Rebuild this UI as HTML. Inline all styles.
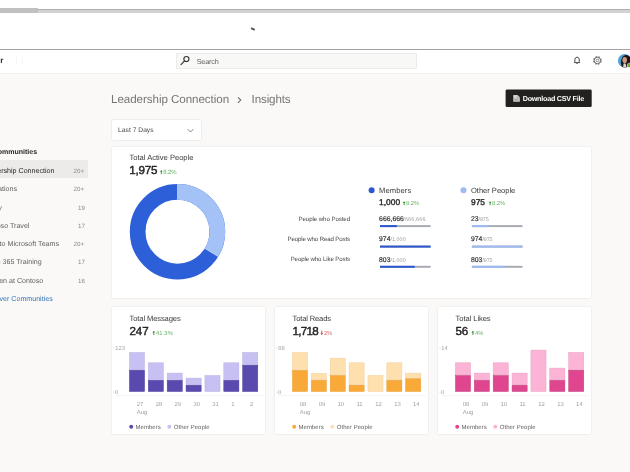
<!DOCTYPE html>
<html><head><meta charset="utf-8"><title>Insights</title>
<style>
html,body{margin:0;padding:0}
body{width:630px;height:472px;overflow:hidden;position:relative;background:#faf9f8;font-family:"Liberation Sans",sans-serif;color:#252423;text-rendering:geometricPrecision}
.t{position:absolute;white-space:nowrap;line-height:1}
.card{position:absolute;background:#fff;box-shadow:0 0 1.6px rgba(0,0,0,.17);border-radius:0.5px}
</style></head><body>
<!-- browser chrome -->
<div style="position:absolute;left:0;top:0;width:630px;height:50px;background:#fff"></div>
<div style="position:absolute;left:0;top:8.9px;width:630px;height:3.9px;background:#d2d2d2"></div>
<div style="position:absolute;left:0;top:8.9px;width:630px;height:1px;background:#adadad"></div>
<div style="position:absolute;left:0;top:7.8px;width:37.8px;height:5px;background:#c0c0c0"></div>
<div style="position:absolute;left:251px;top:28px;width:3.9px;height:1.6px;background:#565656;transform:rotate(24deg)"></div>
<div style="position:absolute;left:0;top:48.7px;width:630px;height:0.9px;background:#a2a2a2"></div>
<!-- header -->
<div style="position:absolute;left:15.6px;top:56.5px;width:0.6px;height:7.2px;background:#f5f5f5;z-index:2"></div><div style="position:absolute;left:21.8px;top:56.5px;width:0.6px;height:7.2px;background:#f5f5f5;z-index:2"></div>
<div style="position:absolute;left:0;top:49.6px;width:630px;height:23.4px;background:#fff;border-bottom:1px solid #f1f0ee"></div>
<div style="position:absolute;left:176.1px;top:52.7px;width:241px;height:16px;background:#f8f8f7;border:0.6px solid #ecebea;box-sizing:border-box;border-radius:1px"></div>
<svg style="position:absolute;left:0;top:0" width="630" height="80" viewBox="0 0 630 80">
<circle cx="186.4" cy="59" r="2.55" fill="none" stroke="#323130" stroke-width="1.1"/><path d="M184.6 60.9 L180.7 64.9" stroke="#323130" stroke-width="1.15" fill="none"/>
<path d="M577.05 57.25 C575.35 57.25 574.85 58.6 574.85 59.9 L574.85 61.5 L574.45 62.6 L579.65 62.6 L579.25 61.5 L579.25 59.9 C579.25 58.6 578.75 57.25 577.05 57.25 Z" fill="none" stroke="#323130" stroke-width="0.9" stroke-linejoin="round"/><path d="M575.9 62.9 Q577.05 64.5 578.2 62.9 Z" fill="#323130"/>
<circle cx="597.4" cy="60.45" r="3.95" fill="none" stroke="#6e6c6a" stroke-width="0.9" stroke-dasharray="1.65 1.452" transform="rotate(10 597.4 60.45)"/><circle cx="597.4" cy="60.45" r="3.2" fill="none" stroke="#5f5d5b" stroke-width="0.95"/><circle cx="597.4" cy="60.45" r="1.3" fill="none" stroke="#5f5d5b" stroke-width="0.65"/>
<defs><clipPath id="av"><circle cx="624.7" cy="60.7" r="6.8"/></clipPath></defs>
<g clip-path="url(#av)"><rect x="617" y="53" width="16" height="16" fill="#4fa3d3"/><ellipse cx="626.3" cy="62.3" rx="5.4" ry="7.4" fill="#1d1614"/><ellipse cx="624.7" cy="60.1" rx="2.3" ry="3.1" fill="#cf9a82"/><path d="M623.6 63.4 L625.6 63.4 L626.4 68 L623 68 Z" fill="#e8d2cc"/></g>
<circle cx="629.3" cy="65.4" r="2.2" fill="#6fad2d" stroke="#fff" stroke-width="0.5"/>
</svg>

<!-- sidebar -->
<div style="position:absolute;left:0;top:159.9px;width:88.2px;height:18px;background:#ecebea"></div>

<!-- title / button / dropdown -->
<svg style="position:absolute;left:0;top:80px" width="630" height="70" viewBox="0 80 630 70">
<path d="M237.9 97.3 L240.8 100.1 L237.9 102.9" fill="none" stroke="#6c6a68" stroke-width="1.05"/>
<rect x="505.6" y="89.4" width="86.1" height="17.7" rx="1.4" fill="#222120"/>
<path d="M513.3 95.1 H517.6 L519.8 97.3 V101.7 H513.3 Z" fill="#d6d6d6"/><path d="M517.4 95.1 V97.5 H519.8" fill="none" stroke="#8a8a8a" stroke-width="0.5"/><path d="M514.4 98.9 H518.7 M514.4 100.2 H518.7" stroke="#6a6a6a" stroke-width="0.5"/>
</svg>
<div style="position:absolute;left:111.8px;top:120.2px;width:89.5px;height:19.9px;background:#fff;box-shadow:0 0 1.6px rgba(0,0,0,.22);border-radius:1px"></div>
<svg style="position:absolute;left:185.5px;top:126.5px" width="9" height="7" viewBox="0 0 9 7"><path d="M1.6 2.1 L4.5 5 L7.4 2.1" fill="none" stroke="#605e5c" stroke-width="0.75"/></svg>

<!-- cards -->
<div class="card" style="left:111.7px;top:146.8px;width:479.6px;height:151.2px"></div>
<div class="card" style="left:111.8px;top:307.2px;width:153.3px;height:126.8px"></div>
<div class="card" style="left:274.8px;top:307.2px;width:153.3px;height:126.8px"></div>
<div class="card" style="left:437.8px;top:307.2px;width:153.3px;height:126.8px"></div>
<svg style="position:absolute;left:0;top:0" width="630" height="472" viewBox="0 0 630 472">
<circle cx="177.5" cy="231.7" r="39.85" fill="none" stroke="#2c5fd8" stroke-width="15.7"/>
<circle cx="177.5" cy="231.7" r="39.85" fill="none" stroke="#a4c2f6" stroke-width="15.7" stroke-dasharray="84.4 250.4" transform="rotate(-90 177.5 231.7)"/>
<path d="M177.5 184 V199.7 M204.8 248.4 L218.2 256.6" stroke="#e6eefc" stroke-width="0.5"/>
<path d="M153.8 330.7 L155.2 332.4 H154.25 V334.9 H153.35 V332.4 H152.4 Z" fill="#2f8f2f"/>
<circle cx="131.2" cy="426.8" r="2" fill="#5a4ab0"/><circle cx="169.3" cy="426.8" r="2" fill="#c7c0f2"/>
<rect x="129.45" y="352.50" width="15.1" height="17.20" fill="#c7c0f2" stroke="#b9b1e6" stroke-width="0.5"/>
<rect x="129.45" y="370.20" width="15.1" height="21.30" fill="#5a4ab0" stroke="#4b3d99" stroke-width="0.5"/>
<rect x="148.32" y="362.80" width="15.1" height="17.00" fill="#c7c0f2" stroke="#b9b1e6" stroke-width="0.5"/>
<rect x="148.32" y="380.30" width="15.1" height="11.20" fill="#5a4ab0" stroke="#4b3d99" stroke-width="0.5"/>
<rect x="167.19" y="373.10" width="15.1" height="6.70" fill="#c7c0f2" stroke="#b9b1e6" stroke-width="0.5"/>
<rect x="167.19" y="380.30" width="15.1" height="11.20" fill="#5a4ab0" stroke="#4b3d99" stroke-width="0.5"/>
<rect x="186.06" y="378.10" width="15.1" height="6.60" fill="#c7c0f2" stroke="#b9b1e6" stroke-width="0.5"/>
<rect x="186.06" y="385.20" width="15.1" height="6.30" fill="#5a4ab0" stroke="#4b3d99" stroke-width="0.5"/>
<rect x="204.93" y="375.50" width="15.1" height="16.00" fill="#c7c0f2" stroke="#b9b1e6" stroke-width="0.5"/>
<rect x="223.80" y="362.80" width="15.1" height="17.00" fill="#c7c0f2" stroke="#b9b1e6" stroke-width="0.5"/>
<rect x="223.80" y="380.30" width="15.1" height="11.20" fill="#5a4ab0" stroke="#4b3d99" stroke-width="0.5"/>
<rect x="242.67" y="352.50" width="15.1" height="12.20" fill="#c7c0f2" stroke="#b9b1e6" stroke-width="0.5"/>
<rect x="242.67" y="365.20" width="15.1" height="26.30" fill="#5a4ab0" stroke="#4b3d99" stroke-width="0.5"/>
<rect x="115.8" y="395.5" width="147" height="0.6" fill="#ececeb"/>
<rect x="113.0" y="347.6" width="2" height="0.6" fill="#d8d8d8"/><rect x="113.0" y="391.8" width="2" height="0.6" fill="#d8d8d8"/>
<path d="M321.8 334.9 L323.2 333.2 H322.25 V330.7 H321.35 V333.2 H320.4 Z" fill="#c23b35"/>
<circle cx="294.2" cy="426.8" r="2" fill="#f8a938"/><circle cx="332.3" cy="426.8" r="2" fill="#fde0ae"/>
<rect x="292.45" y="352.50" width="15.1" height="17.40" fill="#fde0ae" stroke="#f1d09c" stroke-width="0.5"/>
<rect x="292.45" y="370.40" width="15.1" height="21.10" fill="#f8a938" stroke="#ea9d33" stroke-width="0.5"/>
<rect x="311.32" y="373.40" width="15.1" height="6.40" fill="#fde0ae" stroke="#f1d09c" stroke-width="0.5"/>
<rect x="311.32" y="380.30" width="15.1" height="11.20" fill="#f8a938" stroke="#ea9d33" stroke-width="0.5"/>
<rect x="330.19" y="358.20" width="15.1" height="16.80" fill="#fde0ae" stroke="#f1d09c" stroke-width="0.5"/>
<rect x="330.19" y="375.50" width="15.1" height="16.00" fill="#f8a938" stroke="#ea9d33" stroke-width="0.5"/>
<rect x="349.06" y="362.80" width="15.1" height="21.90" fill="#fde0ae" stroke="#f1d09c" stroke-width="0.5"/>
<rect x="349.06" y="385.20" width="15.1" height="6.30" fill="#f8a938" stroke="#ea9d33" stroke-width="0.5"/>
<rect x="367.93" y="375.50" width="15.1" height="16.00" fill="#fde0ae" stroke="#f1d09c" stroke-width="0.5"/>
<rect x="386.80" y="362.80" width="15.1" height="17.00" fill="#fde0ae" stroke="#f1d09c" stroke-width="0.5"/>
<rect x="386.80" y="380.30" width="15.1" height="11.20" fill="#f8a938" stroke="#ea9d33" stroke-width="0.5"/>
<rect x="405.67" y="373.10" width="15.1" height="5.20" fill="#fde0ae" stroke="#f1d09c" stroke-width="0.5"/>
<rect x="405.67" y="378.80" width="15.1" height="12.70" fill="#f8a938" stroke="#ea9d33" stroke-width="0.5"/>
<rect x="278.8" y="395.5" width="147" height="0.6" fill="#ececeb"/>
<rect x="276.0" y="347.6" width="2" height="0.6" fill="#d8d8d8"/><rect x="276.0" y="391.8" width="2" height="0.6" fill="#d8d8d8"/>
<path d="M472.9 330.7 L474.29999999999995 332.4 H473.34999999999997 V334.9 H472.45 V332.4 H471.49999999999994 Z" fill="#2f8f2f"/>
<circle cx="457.2" cy="426.8" r="2" fill="#e0468f"/><circle cx="495.3" cy="426.8" r="2" fill="#fbb4d5"/>
<rect x="455.45" y="362.80" width="15.1" height="12.20" fill="#fbb4d5" stroke="#e7a2c2" stroke-width="0.5"/>
<rect x="455.45" y="375.50" width="15.1" height="16.00" fill="#e0468f" stroke="#c23c7c" stroke-width="0.5"/>
<rect x="474.32" y="373.10" width="15.1" height="6.70" fill="#fbb4d5" stroke="#e7a2c2" stroke-width="0.5"/>
<rect x="474.32" y="380.30" width="15.1" height="11.20" fill="#e0468f" stroke="#c23c7c" stroke-width="0.5"/>
<rect x="493.19" y="362.80" width="15.1" height="12.20" fill="#fbb4d5" stroke="#e7a2c2" stroke-width="0.5"/>
<rect x="493.19" y="375.50" width="15.1" height="16.00" fill="#e0468f" stroke="#c23c7c" stroke-width="0.5"/>
<rect x="512.06" y="373.10" width="15.1" height="11.60" fill="#fbb4d5" stroke="#e7a2c2" stroke-width="0.5"/>
<rect x="512.06" y="385.20" width="15.1" height="6.30" fill="#e0468f" stroke="#c23c7c" stroke-width="0.5"/>
<rect x="530.93" y="350.10" width="15.1" height="41.40" fill="#fbb4d5" stroke="#e7a2c2" stroke-width="0.5"/>
<rect x="549.80" y="368.10" width="15.1" height="11.70" fill="#fbb4d5" stroke="#e7a2c2" stroke-width="0.5"/>
<rect x="549.80" y="380.30" width="15.1" height="11.20" fill="#e0468f" stroke="#c23c7c" stroke-width="0.5"/>
<rect x="568.67" y="352.50" width="15.1" height="17.20" fill="#fbb4d5" stroke="#e7a2c2" stroke-width="0.5"/>
<rect x="568.67" y="370.20" width="15.1" height="21.30" fill="#e0468f" stroke="#c23c7c" stroke-width="0.5"/>
<rect x="441.8" y="395.5" width="147" height="0.6" fill="#ececeb"/>
<rect x="439.0" y="347.6" width="2" height="0.6" fill="#d8d8d8"/><rect x="439.0" y="391.8" width="2" height="0.6" fill="#d8d8d8"/>
<circle cx="371.6" cy="190.2" r="3" fill="#2b58cf"/>
<path d="M404.1 201.2 L405.5 202.89999999999998 H404.55 V205.2 H403.65000000000003 V202.89999999999998 H402.7 Z" fill="#2f8f2f"/>
<rect x="380.0" y="225.1" width="50.6" height="2" fill="#a9abb3"/><rect x="380.0" y="225.1" width="16.9" height="2" fill="#2b58cf"/>
<rect x="380.0" y="245.6" width="50.6" height="2" fill="#a9abb3"/><rect x="380.0" y="245.6" width="50.6" height="2" fill="#2b58cf"/>
<rect x="380.0" y="265.8" width="50.6" height="2" fill="#a9abb3"/><rect x="380.0" y="265.8" width="34.7" height="2" fill="#2b58cf"/>
<circle cx="463.5" cy="190.2" r="3" fill="#9dbaf2"/>
<path d="M490.09999999999997 201.2 L491.49999999999994 202.89999999999998 H490.54999999999995 V205.2 H489.65 V202.89999999999998 H488.69999999999993 Z" fill="#2f8f2f"/>
<rect x="471.9" y="225.1" width="50.6" height="2" fill="#a9abb3"/><rect x="471.9" y="225.1" width="16.7" height="2" fill="#9dbaf2"/>
<rect x="471.9" y="245.6" width="50.6" height="2" fill="#a9abb3"/><rect x="471.9" y="245.6" width="50.6" height="2" fill="#9dbaf2"/>
<rect x="471.9" y="265.8" width="50.6" height="2" fill="#a9abb3"/><rect x="471.9" y="265.8" width="33.4" height="2" fill="#9dbaf2"/>
<path d="M161.3 170.0 L162.7 171.7 H161.75 V174.2 H160.85 V171.7 H159.9 Z" fill="#2f8f2f"/>
</svg>
<svg style="position:absolute;left:0;top:0;will-change:transform;font-family:'Liberation Sans',sans-serif;text-rendering:geometricPrecision" width="630" height="472" viewBox="0 0 630 472">
<text id="t46" x="37.10" y="154.30" font-size="7.0" fill="#201f1e" text-anchor="end" font-weight="bold">ommunities</text>
<text id="t47" x="54.40" y="172.60" font-size="7.1" fill="#252423" text-anchor="end">ership Connection</text>
<text id="t48" x="84.00" y="172.60" font-size="6.2" fill="#8a8886" text-anchor="end">20+</text>
<text id="t49" x="17.00" y="191.00" font-size="7.1" fill="#605e5c" text-anchor="end">ations</text>
<text id="t50" x="84.00" y="191.00" font-size="6.2" fill="#8a8886" text-anchor="end">20+</text>
<text id="t51" x="1.90" y="209.60" font-size="7.1" fill="#605e5c" text-anchor="end">y</text>
<text id="t52" x="84.90" y="209.60" font-size="6.2" fill="#8a8886" text-anchor="end">19</text>
<text id="t53" x="29.40" y="227.50" font-size="7.1" fill="#605e5c" text-anchor="end">oso Travel</text>
<text id="t54" x="84.90" y="227.50" font-size="6.2" fill="#8a8886" text-anchor="end">17</text>
<text id="t55" x="59.00" y="246.20" font-size="7.1" fill="#605e5c" text-anchor="end">to Microsoft Teams</text>
<text id="t56" x="84.00" y="246.20" font-size="6.2" fill="#8a8886" text-anchor="end">20+</text>
<text id="t57" x="41.60" y="264.30" font-size="7.1" fill="#605e5c" text-anchor="end">e 365 Training</text>
<text id="t58" x="84.90" y="264.30" font-size="6.2" fill="#8a8886" text-anchor="end">17</text>
<text id="t59" x="43.30" y="282.80" font-size="7.1" fill="#605e5c" text-anchor="end">en at Contoso</text>
<text id="t60" x="84.90" y="282.80" font-size="6.2" fill="#8a8886" text-anchor="end">16</text>
<text id="t61" x="52.70" y="300.90" font-size="7.1" fill="#3473b5" text-anchor="end">ver Communities</text>
<text id="t83" x="3.40" y="63.30" font-size="8.2" fill="#2b2a29" text-anchor="end" font-weight="bold">r</text>
<text id="t84" x="196.70" y="63.80" font-size="7.2" fill="#605e5c" letter-spacing="-0.139">Search</text>
<text id="t85" x="111.00" y="102.90" font-size="11.6" fill="#777573" letter-spacing="-0.057">Leadership Connection</text>
<text id="t86" x="251.60" y="102.90" font-size="11.6" fill="#777573" letter-spacing="-0.141">Insights</text>
<text id="t87" x="522.70" y="101.10" font-size="7.2" fill="#ffffff" font-weight="bold" letter-spacing="-0.250">Download CSV File</text>
<text id="t88" x="118.10" y="132.00" font-size="6.7" fill="#484644" letter-spacing="0.017">Last 7 Days</text>
<text id="t89" x="129.50" y="159.70" font-size="7.6" fill="#3b3a39" letter-spacing="-0.010">Total Active People</text>
<text id="t90" x="129.20" y="174.20" font-size="11.6" fill="#252423" stroke="#252423" stroke-width="0.45" stroke-linejoin="round" letter-spacing="-0.174">1,975</text>
<text id="t91" x="163.20" y="174.20" font-size="6" fill="#66b066" letter-spacing="-0.112">8.2%</text>
<text id="t1" x="129.60" y="320.80" font-size="7.6" fill="#3b3a39" letter-spacing="-0.127">Total Messages</text>
<text id="t2" x="129.40" y="334.90" font-size="11.6" fill="#252423" stroke="#252423" stroke-width="0.45" stroke-linejoin="round">247</text>
<text id="t3" x="155.90" y="334.90" font-size="5.8" fill="#66b066" letter-spacing="0.137">41.3%</text>
<text id="t4" x="115.30" y="350.20" font-size="5.8" fill="#a8a6a4">123</text>
<text id="t5" x="115.10" y="394.40" font-size="5.8" fill="#a8a6a4">0</text>
<text id="t6" x="136.80" y="406.40" font-size="5.9" fill="#a19f9d">27</text>
<text id="t7" x="155.67" y="406.40" font-size="5.9" fill="#a19f9d">28</text>
<text id="t8" x="174.54" y="406.40" font-size="5.9" fill="#a19f9d">29</text>
<text id="t9" x="193.41" y="406.40" font-size="5.9" fill="#a19f9d">30</text>
<text id="t10" x="212.28" y="406.40" font-size="5.9" fill="#a19f9d">31</text>
<text id="t11" x="231.15" y="406.40" font-size="5.9" fill="#a19f9d">1</text>
<text id="t12" x="250.02" y="406.40" font-size="5.9" fill="#a19f9d">2</text>
<text id="t13" x="136.80" y="414.30" font-size="5.9" fill="#a19f9d">Aug</text>
<text id="t14" x="135.60" y="429.20" font-size="6" fill="#605e5c" letter-spacing="0.018">Members</text>
<text id="t15" x="173.80" y="429.20" font-size="6" fill="#605e5c" letter-spacing="0.032">Other People</text>
<text id="t16" x="292.60" y="320.80" font-size="7.6" fill="#3b3a39" letter-spacing="-0.166">Total Reads</text>
<text id="t17" x="292.40" y="334.90" font-size="11.6" fill="#252423" stroke="#252423" stroke-width="0.45" stroke-linejoin="round" letter-spacing="-0.674">1,718</text>
<text id="t18" x="323.90" y="334.90" font-size="5.8" fill="#d66a64">2%</text>
<text id="t19" x="278.30" y="350.20" font-size="5.8" fill="#a8a6a4">88</text>
<text id="t20" x="278.10" y="394.40" font-size="5.8" fill="#a8a6a4">0</text>
<text id="t21" x="299.80" y="406.40" font-size="5.9" fill="#a19f9d">08</text>
<text id="t22" x="318.67" y="406.40" font-size="5.9" fill="#a19f9d">09</text>
<text id="t23" x="337.54" y="406.40" font-size="5.9" fill="#a19f9d">10</text>
<text id="t24" x="356.41" y="406.40" font-size="5.9" fill="#a19f9d">11</text>
<text id="t25" x="375.28" y="406.40" font-size="5.9" fill="#a19f9d">12</text>
<text id="t26" x="394.15" y="406.40" font-size="5.9" fill="#a19f9d">13</text>
<text id="t27" x="413.02" y="406.40" font-size="5.9" fill="#a19f9d">14</text>
<text id="t28" x="299.80" y="414.30" font-size="5.9" fill="#a19f9d">Aug</text>
<text id="t29" x="298.60" y="429.20" font-size="6" fill="#605e5c" letter-spacing="0.018">Members</text>
<text id="t30" x="336.80" y="429.20" font-size="6" fill="#605e5c" letter-spacing="0.032">Other People</text>
<text id="t31" x="455.60" y="320.80" font-size="7.6" fill="#3b3a39" letter-spacing="-0.082">Total Likes</text>
<text id="t32" x="455.40" y="334.90" font-size="11.6" fill="#252423" stroke="#252423" stroke-width="0.45" stroke-linejoin="round">56</text>
<text id="t33" x="475.00" y="334.90" font-size="5.8" fill="#66b066">4%</text>
<text id="t34" x="441.30" y="350.20" font-size="5.8" fill="#a8a6a4">14</text>
<text id="t35" x="441.10" y="394.40" font-size="5.8" fill="#a8a6a4">0</text>
<text id="t36" x="462.80" y="406.40" font-size="5.9" fill="#a19f9d">08</text>
<text id="t37" x="481.67" y="406.40" font-size="5.9" fill="#a19f9d">09</text>
<text id="t38" x="500.54" y="406.40" font-size="5.9" fill="#a19f9d">10</text>
<text id="t39" x="519.41" y="406.40" font-size="5.9" fill="#a19f9d">11</text>
<text id="t40" x="538.28" y="406.40" font-size="5.9" fill="#a19f9d">12</text>
<text id="t41" x="557.15" y="406.40" font-size="5.9" fill="#a19f9d">13</text>
<text id="t42" x="576.02" y="406.40" font-size="5.9" fill="#a19f9d">14</text>
<text id="t43" x="462.80" y="414.30" font-size="5.9" fill="#a19f9d">Aug</text>
<text id="t44" x="461.60" y="429.20" font-size="6" fill="#605e5c" letter-spacing="0.018">Members</text>
<text id="t45" x="499.80" y="429.20" font-size="6" fill="#605e5c" letter-spacing="0.032">Other People</text>
<text id="t62" x="379.10" y="192.50" font-size="7.6" fill="#3b3a39" letter-spacing="0.075">Members</text>
<text id="t63" x="379.10" y="205.20" font-size="8.4" fill="#252423" stroke="#252423" stroke-width="0.36" stroke-linejoin="round" letter-spacing="0.017">1,000</text>
<text id="t64" x="406.00" y="205.20" font-size="5.8" fill="#66b066" letter-spacing="0.001">8.2%</text>
<text id="t65" x="379.10" y="221.20" font-size="6.8" fill="#323130" stroke="#323130" stroke-width="0.18" stroke-linejoin="round" letter-spacing="0.033">666,666</text>
<text id="t66" x="403.30" y="221.20" font-size="5.4" fill="#9c9a98" letter-spacing="0.163">/666,666</text>
<text id="t67" x="379.10" y="241.40" font-size="6.8" fill="#323130" stroke="#323130" stroke-width="0.18" stroke-linejoin="round">974</text>
<text id="t68" x="390.50" y="241.40" font-size="5.4" fill="#9c9a98" letter-spacing="0.031">/1,000</text>
<text id="t69" x="379.10" y="261.60" font-size="6.8" fill="#323130" stroke="#323130" stroke-width="0.18" stroke-linejoin="round">803</text>
<text id="t70" x="390.50" y="261.60" font-size="5.4" fill="#9c9a98" letter-spacing="0.031">/1,000</text>
<text id="t71" x="471.00" y="192.50" font-size="7.6" fill="#3b3a39" letter-spacing="-0.039">Other People</text>
<text id="t72" x="471.00" y="205.20" font-size="8.4" fill="#252423" stroke="#252423" stroke-width="0.36" stroke-linejoin="round">975</text>
<text id="t73" x="492.00" y="205.20" font-size="5.8" fill="#66b066" letter-spacing="0.001">8.2%</text>
<text id="t74" x="471.00" y="221.20" font-size="6.8" fill="#323130" stroke="#323130" stroke-width="0.18" stroke-linejoin="round">23</text>
<text id="t75" x="478.60" y="221.20" font-size="5.4" fill="#9c9a98" letter-spacing="-0.128">/975</text>
<text id="t76" x="471.00" y="241.40" font-size="6.8" fill="#323130" stroke="#323130" stroke-width="0.18" stroke-linejoin="round">974</text>
<text id="t77" x="482.40" y="241.40" font-size="5.4" fill="#9c9a98" letter-spacing="-0.128">/975</text>
<text id="t78" x="471.00" y="261.60" font-size="6.8" fill="#323130" stroke="#323130" stroke-width="0.18" stroke-linejoin="round">803</text>
<text id="t79" x="482.40" y="261.60" font-size="5.4" fill="#9c9a98" letter-spacing="-0.128">/975</text>
<text id="t80" x="350.00" y="221.10" font-size="6.1" fill="#484644" text-anchor="end" letter-spacing="-0.063">People who Posted</text>
<text id="t81" x="350.00" y="241.30" font-size="6.1" fill="#484644" text-anchor="end" letter-spacing="-0.119">People who Read Posts</text>
<text id="t82" x="350.00" y="261.40" font-size="6.1" fill="#484644" text-anchor="end" letter-spacing="-0.110">People who Like Posts</text>
</svg>
</body></html>
